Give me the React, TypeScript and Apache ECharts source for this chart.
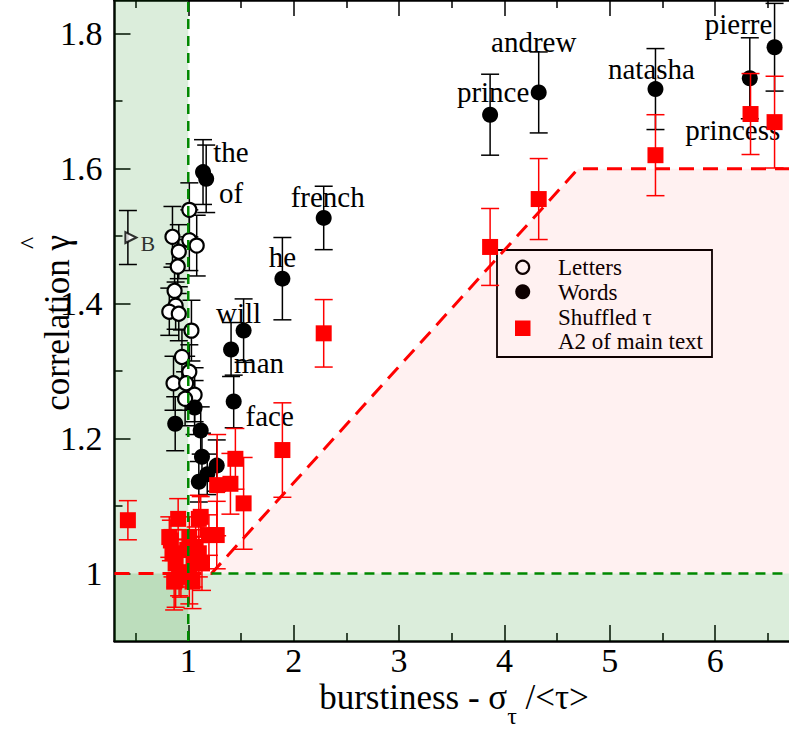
import React, { useEffect, useRef } from "react";
import * as echarts from "echarts";

// ---------- axes ----------
const X_MIN = 0.3;
const X_MAX = 6.7;
const Y_MIN = 0.9;
const Y_MAX = 1.85;
const xMajorTicks = [1, 2, 3, 4, 5, 6];
const xMinorTicks = [0.5, 1.5, 2.5, 3.5, 4.5, 5.5, 6.5];
const yMajorTicks = [1, 1.2, 1.4, 1.6, 1.8];
const yMinorTicks = [1.1, 1.3, 1.5, 1.7];

// ---------- data: [burstiness, correlation, error] ----------
const letters: number[][] = [
  [1.01, 1.539, 0.04],
  [0.85, 1.499, 0.045],
  [1.01, 1.494, 0.045],
  [1.08, 1.486, 0.045],
  [0.91, 1.477, 0.04],
  [0.9, 1.455, 0.04],
  [0.87, 1.419, 0.04],
  [0.88, 1.397, 0.035],
  [0.82, 1.388, 0.035],
  [0.91, 1.385, 0.04],
  [1.03, 1.36, 0.045],
  [0.94, 1.321, 0.04],
  [1.01, 1.299, 0.04],
  [0.86, 1.282, 0.04],
  [0.98, 1.282, 0.04],
  [1.06, 1.265, 0.04],
  [0.97, 1.259, 0.04],
];

const wordNames = [
  "the", "of", "french", "he", "will", "man", "face",
  "", "", "", "", "", "", "",
  "prince", "andrew", "natasha", "princess", "pierre",
];
const words: number[][] = [
  [1.14, 1.595, 0.048],
  [1.17, 1.585, 0.05],
  [2.285, 1.527, 0.047],
  [1.893, 1.437, 0.061],
  [1.525, 1.36, 0.047],
  [1.406, 1.332, 0.04],
  [1.431, 1.255, 0.039],
  [0.876, 1.222, 0.04],
  [1.06, 1.246, 0.04],
  [1.118, 1.212, 0.035],
  [1.13, 1.173, 0.035],
  [1.1, 1.136, 0.03],
  [1.18, 1.147, 0.03],
  [1.27, 1.16, 0.038],
  [3.864, 1.68, 0.06],
  [4.325, 1.713, 0.06],
  [5.433, 1.718, 0.06],
  [6.328, 1.734, 0.06],
  [6.563, 1.78, 0.065],
];

const shuffled: number[][] = [
  [0.427, 1.079, 0.029],
  [3.864, 1.484, 0.057],
  [4.325, 1.555, 0.06],
  [5.433, 1.62, 0.06],
  [6.335, 1.681, 0.06],
  [6.563, 1.669, 0.068],
  [2.285, 1.356, 0.05],
  [1.893, 1.183, 0.07],
  [1.447, 1.17, 0.045],
  [1.525, 1.104, 0.068],
  [1.4, 1.133, 0.045],
  [1.274, 1.131, 0.075],
  [1.118, 1.084, 0.03],
  [0.904, 1.081, 0.03],
  [1.1, 1.081, 0.035],
  [1.196, 1.057, 0.03],
  [1.27, 1.057, 0.05],
  [0.835, 1.049, 0.03],
  [0.82, 1.054, 0.03],
  [1.01, 1.054, 0.03],
  [0.85, 1.03, 0.035],
  [0.99, 1.035, 0.03],
  [1.1, 1.03, 0.035],
  [1.07, 1.039, 0.03],
  [0.88, 1.015, 0.035],
  [1.05, 1.015, 0.035],
  [1.13, 1.015, 0.04],
  [0.866, 0.988, 0.042],
  [1.04, 0.988, 0.04],
  [0.913, 1.002, 0.035],
  [1.01, 0.995, 0.04],
  [0.93, 1.0, 0.035],
  [0.88, 0.99, 0.04],
];

const pointB: number[][] = [[0.427, 1.498, 0.04]];

// ---------- reference regions ----------
const redBoundary = [
  [X_MIN, 1],
  [1.22, 1],
  [4.7, 1.6],
  [X_MAX, 1.6],
];
const pinkRegion = [
  [1.22, 1],
  [4.7, 1.6],
  [X_MAX, 1.6],
  [X_MAX, 1],
];
const greenVertical = [
  [1, Y_MIN],
  [1, Y_MAX],
];
const greenHorizontal = [
  [1.22, 1],
  [X_MAX, 1],
];

// ---------- label offsets (px, relative to point) ----------
const labelOffsets: Record<string, [number, number]> = {
  the: [28, -20],
  of: [25, 14],
  french: [4, -21],
  he: [0, -22],
  will: [-5, -18],
  man: [28, 13],
  face: [36, 15],
  prince: [3, -23],
  andrew: [-5, -50],
  natasha: [-4, -20],
  princess: [-17, 52],
  pierre: [-36, -23],
};

const FONT = "Liberation Serif, Times New Roman, serif";

function measure(text: string, size: number): number {
  const c = document.createElement("canvas").getContext("2d");
  if (!c) return text.length * size * 0.5;
  c.font = `${size}px Liberation Serif`;
  return c.measureText(text).width;
}

function errorBarRender(color: string, capHalf: number, lw: number) {
  return (params: any, api: any) => {
    const x = api.value(0);
    const y = api.value(1);
    const e = api.value(2);
    const top = api.coord([x, y + e]);
    const bot = api.coord([x, y - e]);
    const style = { stroke: color, lineWidth: lw };
    return {
      type: "group",
      children: [
        { type: "line", shape: { x1: top[0], y1: top[1], x2: bot[0], y2: bot[1] }, style },
        { type: "line", shape: { x1: top[0] - capHalf, y1: top[1], x2: top[0] + capHalf, y2: top[1] }, style },
        { type: "line", shape: { x1: bot[0] - capHalf, y1: bot[1], x2: bot[0] + capHalf, y2: bot[1] }, style },
      ],
    };
  };
}

export default function App() {
  const ref = useRef<HTMLDivElement>(null);

  useEffect(() => {
    if (!ref.current) return;
    const chart = echarts.init(ref.current, undefined, { renderer: "svg" });

    const gridLeft = 114.5;
    const gridTop = 0;
    const gridHeight = 641;
    const pxPerX = 106.2;
    const gridWidth = (X_MAX - X_MIN) * pxPerX;

    const axisLineStyle = { color: "#000", width: 2.5 };
    const makeX = (pos: string, ticks: number[], len: number, major: boolean, labels: boolean) => ({
      type: "value",
      min: X_MIN,
      max: X_MAX,
      position: pos,
      axisLine: { show: major, onZero: false, lineStyle: axisLineStyle },
      axisTick: { show: true, inside: true, length: len, customValues: ticks, lineStyle: { color: "#000", width: 1.5 } },
      axisLabel: labels
        ? { show: true, customValues: ticks, fontSize: 34, lineHeight: 26, fontFamily: FONT, color: "#000", margin: 6 }
        : { show: false },
      splitLine: { show: false },
    });
    const makeY = (pos: string, ticks: number[], len: number, major: boolean, labels: boolean) => ({
      type: "value",
      min: Y_MIN,
      max: Y_MAX,
      position: pos,
      axisLine: { show: major, onZero: false, lineStyle: axisLineStyle },
      axisTick: { show: true, inside: true, length: len, customValues: ticks, lineStyle: { color: "#000", width: 1.5 } },
      axisLabel: labels
        ? {
            show: true,
            customValues: ticks,
            fontSize: 34,
            fontFamily: FONT,
            color: "#000",
            margin: 12,
            formatter: (v: number) => String(Math.round(v * 10) / 10),
          }
        : { show: false },
      splitLine: { show: false },
    });

    // x-axis title pieces
    const tSize = 35;
    const subSize = 24;
    const p1 = "burstiness - σ";
    const p2 = "τ";
    const p3 = " /<τ>";
    const w1 = measure(p1, tSize);
    const w2 = measure(p2, subSize);
    const w3 = measure(p3, tSize);
    const titleCx = 454;
    const startX = titleCx - (w1 + w2 + w3) / 2;
    const midY = 697;

    const yTitleSize = 35;
    const yMain = "correlation γ";
    const yTitleX = 57;
    const yTitleTopEnd = 235;

    const scatterLabel = (name: string) => {
      const off = labelOffsets[name];
      if (!name || !off) return { show: false };
      return {
        show: true,
        position: "inside",
        offset: off,
        formatter: name,
        fontSize: 29,
        fontFamily: FONT,
        color: "#000",
      };
    };

    const txt = (text: string, size: number) => ({ text, fontSize: size, fontFamily: FONT, fill: "#000" });

    const option: any = {
      animation: false,
      backgroundColor: "#fff",
      grid: { left: gridLeft, top: gridTop, width: gridWidth, height: gridHeight, containLabel: false },
      xAxis: [
        makeX("bottom", xMajorTicks, 16, true, true),
        makeX("bottom", xMinorTicks, 8, false, false),
        makeX("top", xMajorTicks, 16, true, false),
        makeX("top", xMinorTicks, 8, false, false),
      ],
      yAxis: [
        makeY("left", yMajorTicks, 16, true, true),
        makeY("left", yMinorTicks, 8, false, false),
      ],
      series: [
        {
          type: "line",
          data: [],
          silent: true,
          markArea: {
            silent: true,
            itemStyle: { color: "rgba(0,128,0,0.14)" },
            data: [
              [{ coord: [X_MIN, Y_MIN] }, { coord: [1, Y_MAX] }],
              [{ coord: [X_MIN, Y_MIN] }, { coord: [X_MAX, 1] }],
            ],
          },
        },
        {
          type: "custom",
          silent: true,
          data: [0],
          renderItem: (params: any, api: any) => ({
            type: "polygon",
            shape: { points: pinkRegion.map((p) => api.coord(p)) },
            style: { fill: "rgba(255,0,0,0.055)" },
          }),
          z: 1,
        },
        {
          type: "line",
          data: redBoundary,
          symbol: "none",
          silent: true,
          lineStyle: { color: "#ff0000", width: 3, type: [15, 9] },
          z: 2,
        },
        {
          type: "custom",
          data: letters,
          renderItem: errorBarRender("#000", 9, 1.5),
          encode: { x: 0, y: 1 },
          z: 3,
        },
        {
          type: "custom",
          data: words,
          renderItem: errorBarRender("#000", 9, 1.5),
          encode: { x: 0, y: 1 },
          z: 3,
        },
        {
          type: "custom",
          data: pointB,
          renderItem: errorBarRender("#000", 9, 1.5),
          encode: { x: 0, y: 1 },
          z: 3,
        },
        {
          name: "Letters",
          type: "scatter",
          data: letters.map((d) => [d[0], d[1]]),
          symbol: "circle",
          symbolSize: 14,
          itemStyle: { color: "#fff", borderColor: "#000", borderWidth: 2.2, opacity: 1 },
          z: 4,
        },
        {
          name: "Words",
          type: "scatter",
          data: words.map((d, i) => ({ value: [d[0], d[1]], label: scatterLabel(wordNames[i]) })),
          symbol: "circle",
          symbolSize: 16,
          itemStyle: { color: "#000", opacity: 1 },
          z: 5,
        },
        {
          type: "scatter",
          data: pointB.map((d) => ({
            value: [d[0], d[1]],
            label: { show: true, position: "inside", offset: [17, 6], formatter: "B", fontSize: 22, fontFamily: FONT, color: "#000" },
          })),
          symbol: "triangle",
          symbolRotate: -90,
          symbolSize: 11,
          symbolOffset: [3, 0],
          itemStyle: { color: "#fff", borderColor: "#000", borderWidth: 2 },
          z: 5,
        },
        {
          type: "custom",
          data: shuffled,
          renderItem: errorBarRender("#ff0000", 9, 1.5),
          encode: { x: 0, y: 1 },
          z: 6,
        },
        {
          name: "Shuffled",
          type: "scatter",
          data: shuffled.map((d) => [d[0], d[1]]),
          symbol: "rect",
          symbolSize: 16,
          itemStyle: { color: "#ff0000", opacity: 1 },
          z: 7,
        },
        {
          type: "line",
          data: greenVertical,
          symbol: "none",
          silent: true,
          lineStyle: { color: "#008800", width: 2.5, type: [10, 7] },
          z: 8,
        },
        {
          type: "line",
          data: greenHorizontal,
          symbol: "none",
          silent: true,
          lineStyle: { color: "#008800", width: 2.5, type: [10, 7] },
          z: 8,
        },
      ],
      graphic: [
        // legend
        {
          type: "group",
          z: 100,
          children: [
            { type: "rect", shape: { x: 497, y: 250, width: 215, height: 107 }, style: { fill: "#fff", stroke: "#000", lineWidth: 1.8 } },
            { type: "circle", shape: { cx: 522.7, cy: 267.3, r: 6.5 }, style: { fill: "#fff", stroke: "#000", lineWidth: 2.2 } },
            { type: "circle", shape: { cx: 522.7, cy: 291.7, r: 7.5 }, style: { fill: "#000" } },
            { type: "rect", shape: { x: 515, y: 320.5, width: 15.5, height: 15.5 }, style: { fill: "#ff0000" } },
            { type: "text", x: 558, y: 267, style: { ...txt("Letters", 23), verticalAlign: "middle" } },
            { type: "text", x: 558, y: 292, style: { ...txt("Words", 23), verticalAlign: "middle" } },
            { type: "text", x: 558, y: 317, style: { ...txt("Shuffled τ", 23), verticalAlign: "middle" } },
            { type: "text", x: 558, y: 341, style: { ...txt("A2 of main text", 23), verticalAlign: "middle" } },
          ],
        },
        // x-axis title
        { type: "text", x: startX, y: midY, style: { ...txt(p1, tSize), lineHeight: 24, verticalAlign: "middle" } },
        { type: "text", x: startX + w1, y: midY + 19, style: { ...txt(p2, subSize), lineHeight: 18, verticalAlign: "middle" } },
        { type: "text", x: startX + w1 + w2, y: midY, style: { ...txt(p3, tSize), lineHeight: 24, verticalAlign: "middle" } },
        // y-axis title
        {
          type: "text",
          x: yTitleX,
          y: yTitleTopEnd,
          rotation: Math.PI / 2,
          style: { ...txt(yMain, yTitleSize), align: "right", verticalAlign: "middle" },
        },
        {
          type: "text",
          x: yTitleX - 28,
          y: yTitleTopEnd + 8,
          rotation: Math.PI / 2,
          style: { ...txt("^", 26), align: "center", verticalAlign: "middle" },
        },
      ],
    };

    chart.setOption(option);
    return () => chart.dispose();
  }, []);

  return (
    <div
      ref={ref}
      style={{ position: "fixed", left: 0, top: 0, width: 789, height: 729, background: "#fff" }}
    />
  );
}
